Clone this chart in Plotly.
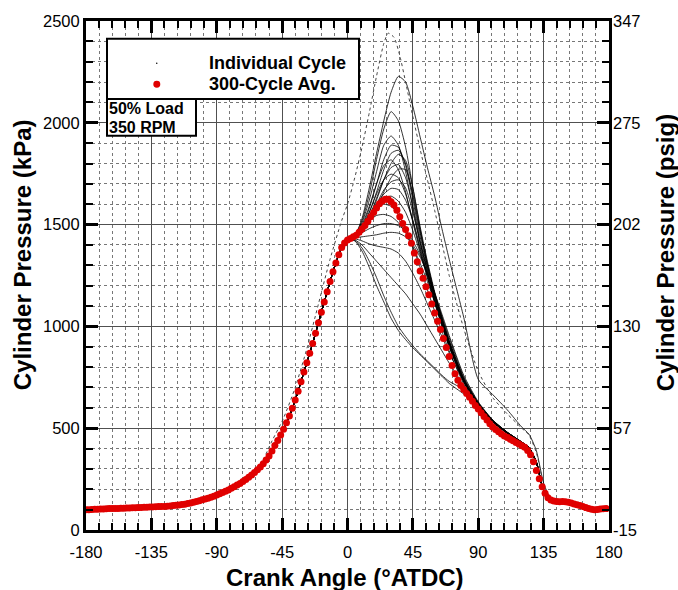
import plotly.graph_objects as go

# ---------------- data ----------------
# crank angle grid of the 300-cycle average (deg ATDC)
CA_AVG = list(range(-180, 181, 2))
# 300-cycle average cylinder pressure (kPa)
P_AVG = [
    100, 100, 101, 102, 102, 103, 103, 104, 105, 105, 106, 106, 107, 107, 108, 108,
    109, 109, 110, 111, 112, 112, 113, 113, 114, 115, 116, 116, 117, 118, 120,
    121, 123, 125, 127, 130, 133, 136, 140, 144, 148, 152, 156, 161, 166, 172,
    178, 184, 190, 197, 205, 213, 221, 229, 238, 248, 259, 270, 282, 296, 310,
    326, 344, 364, 388, 415, 440, 466, 495, 527, 560, 598, 638, 682, 728, 776,
    822, 868, 916, 966, 1018, 1070, 1120, 1170, 1220, 1268, 1312, 1352, 1388, 1410, 1424,
    1432, 1440, 1448, 1462, 1478, 1496, 1516, 1538, 1560, 1582, 1602, 1616, 1624, 1624, 1612,
    1596, 1570, 1538, 1506, 1476, 1445, 1408, 1360, 1318, 1272, 1236, 1195, 1155, 1110, 1066,
    1025, 985, 940, 896, 852, 808, 768, 735, 710, 690, 670, 652, 632, 612, 594,
    576, 558, 540, 522, 506, 494, 483, 472, 462, 454, 446, 438, 430, 422, 414,
    406, 390, 370, 335, 292, 252, 212, 180, 158, 147, 142, 140, 139, 140, 139,
    136, 132, 128, 124, 120, 116, 110, 106, 102, 100, 101, 103, 104, 105,
]

# individual cycles: crank angles of the combustion / expansion part
CA_CYC = [0, 5, 10, 15, 20, 25, 30, 35, 40, 45, 50, 55, 60, 65, 70, 80, 90, 100, 110, 120, 125, 130, 135, 140]
# individual cycle pressures (kPa) at CA_CYC
CYCLE_P = [
    [1425, 1445, 1530, 1680, 1850, 2010, 2150, 2228, 2200, 2080, 1930, 1780, 1640, 1480, 1330, 1045, 740, 665, 590, 505, 470, 390, 230, 150],
    [1425, 1445, 1520, 1650, 1820, 1970, 2055, 2010, 1880, 1680, 1480, 1300, 1160, 1040, 930, 745, 625, 540, 480, 432, 405, 335, 195, 150],
    [1425, 1445, 1510, 1620, 1760, 1890, 1935, 1890, 1760, 1580, 1410, 1270, 1140, 1020, 915, 735, 618, 535, 478, 430, 404, 334, 194, 150],
    [1425, 1442, 1490, 1580, 1700, 1820, 1890, 1880, 1790, 1620, 1440, 1290, 1150, 1030, 920, 738, 620, 536, 478, 430, 404, 334, 194, 150],
    [1425, 1440, 1480, 1560, 1660, 1770, 1850, 1865, 1800, 1640, 1460, 1300, 1160, 1035, 925, 740, 620, 536, 480, 432, 405, 336, 195, 150],
    [1425, 1440, 1470, 1530, 1620, 1720, 1800, 1845, 1815, 1680, 1490, 1320, 1170, 1045, 930, 742, 622, 538, 480, 432, 406, 336, 196, 150],
    [1425, 1444, 1500, 1590, 1700, 1790, 1818, 1770, 1660, 1510, 1370, 1240, 1120, 1005, 900, 728, 612, 532, 475, 428, 402, 332, 193, 150],
    [1425, 1440, 1475, 1540, 1630, 1720, 1780, 1795, 1730, 1590, 1420, 1280, 1140, 1025, 915, 735, 617, 534, 477, 430, 403, 333, 194, 150],
    [1425, 1438, 1460, 1510, 1580, 1660, 1730, 1772, 1770, 1650, 1470, 1310, 1160, 1035, 922, 738, 619, 535, 478, 430, 404, 334, 194, 150],
    [1425, 1442, 1485, 1560, 1650, 1720, 1748, 1730, 1650, 1520, 1380, 1250, 1125, 1010, 905, 730, 613, 532, 476, 429, 402, 332, 193, 150],
    [1425, 1440, 1470, 1530, 1600, 1670, 1710, 1720, 1680, 1560, 1410, 1270, 1135, 1015, 910, 732, 615, 533, 476, 429, 402, 332, 193, 150],
    [1425, 1442, 1480, 1540, 1600, 1650, 1678, 1672, 1620, 1520, 1390, 1255, 1125, 1008, 905, 730, 613, 532, 476, 429, 402, 332, 193, 150],
    [1425, 1442, 1485, 1545, 1595, 1630, 1640, 1615, 1560, 1470, 1360, 1240, 1115, 1000, 900, 728, 611, 531, 475, 428, 401, 331, 192, 150],
    [1425, 1444, 1490, 1545, 1585, 1600, 1590, 1550, 1480, 1390, 1290, 1180, 1075, 975, 880, 718, 606, 528, 473, 427, 400, 330, 192, 150],
    [1425, 1445, 1480, 1520, 1545, 1550, 1540, 1510, 1460, 1390, 1310, 1220, 1120, 1015, 915, 735, 615, 533, 476, 429, 402, 332, 193, 150],
    [1425, 1440, 1460, 1480, 1495, 1505, 1505, 1495, 1470, 1420, 1350, 1260, 1160, 1050, 945, 752, 625, 538, 479, 431, 404, 334, 194, 150],
    [1425, 1435, 1440, 1445, 1450, 1458, 1462, 1458, 1440, 1400, 1340, 1260, 1165, 1060, 955, 760, 630, 540, 480, 432, 405, 335, 195, 150],
    [1425, 1430, 1420, 1405, 1395, 1388, 1380, 1360, 1320, 1260, 1190, 1110, 1030, 950, 870, 730, 620, 535, 478, 430, 404, 334, 194, 150],
    [1425, 1425, 1400, 1360, 1320, 1280, 1240, 1200, 1160, 1110, 1060, 1000, 940, 880, 820, 710, 615, 534, 477, 430, 403, 333, 194, 150],
    [1425, 1420, 1370, 1290, 1200, 1120, 1040, 980, 935, 895, 860, 825, 790, 755, 720, 668, 608, 532, 476, 429, 402, 332, 193, 150],
    [1425, 1422, 1385, 1320, 1240, 1150, 1070, 1000, 950, 905, 865, 830, 795, 760, 730, 690, 615, 533, 476, 429, 402, 332, 193, 150],
]

# the early-burning cycle with the highest peak (drawn dotted)
CA_EARLY = [-70, -60, -52, -44, -36, -28, -20, -12, -4, 0, 5, 10, 15, 20, 25, 28, 32, 36, 40, 45,
            50, 55, 60, 65, 70, 80, 90, 100, 110, 120, 125, 130, 135, 140]
P_EARLY = [250, 320, 437, 550, 700, 890, 1110, 1330, 1520, 1600, 1730, 1880, 2050, 2230, 2390, 2440,
           2420, 2330, 2200, 2030, 1870, 1720, 1570, 1410, 1250, 990, 780, 650, 570, 500, 465, 380, 225, 150]

X_TICKS = [-180, -135, -90, -45, 0, 45, 90, 135, 180]
X_LABELS = ["-180", "-135", "-90", "-45", "0", "45", "90", "135", "180"]
Y_TICKS = [0, 500, 1000, 1500, 2000, 2500]
Y_LABELS = ["0", "500", "1000", "1500", "2000", "2500"]
PSIG_LABELS = ["-15", "57", "130", "202", "275", "347"]

LEGEND_LABELS = ["Individual Cycle", "300-Cycle Avg."]
CONDITION_LINES = ["50% Load", "350 RPM"]

# ---------------- layout geometry (pixels) ----------------
W, H = 678, 590
L, R, T, B = 86, 609, 15, 530


def px(xp):
    return (xp - L) / (R - L)


def py(yp):
    return (B - yp) / (B - T)


FONT = "Liberation Sans, Arial, sans-serif"
TICKFONT = dict(family=FONT, size=16.5, color="black")

fig = go.Figure()


def join(ca_part, p_part):
    xs = [a for a in CA_AVG if a < ca_part[0]] + list(ca_part) + [a for a in CA_AVG if a > ca_part[-1]]
    ys = ([p for a, p in zip(CA_AVG, P_AVG) if a < ca_part[0]] + list(p_part)
          + [p for a, p in zip(CA_AVG, P_AVG) if a > ca_part[-1]])
    return xs, ys


for cyc in CYCLE_P:
    xs, ys = join(CA_CYC, cyc)
    fig.add_trace(go.Scatter(x=xs, y=ys, mode="lines", showlegend=False, hoverinfo="skip",
                             line=dict(color="black", width=0.8, shape="spline", smoothing=0.6)))

xs, ys = join(CA_EARLY, P_EARLY)
fig.add_trace(go.Scatter(x=xs, y=ys, mode="lines", showlegend=False, hoverinfo="skip",
                         line=dict(color="#444444", width=1, dash="dot", shape="spline", smoothing=0.6)))

fig.add_trace(go.Scatter(x=CA_AVG, y=P_AVG, mode="markers", showlegend=False,
                         marker=dict(color="#e00000", size=7, line=dict(width=0))))

# carrier (no visible marks) so the top / right companion axes are drawn
fig.add_trace(go.Scatter(x=CA_AVG, y=P_AVG, mode="none", xaxis="x2", yaxis="y2",
                         showlegend=False, hoverinfo="skip"))

tick_common = dict(ticks="inside", ticklen=12, tickwidth=3, tickcolor="black", zeroline=False)
minor_x = dict(dtick=9, tick0=-180, ticks="inside", ticklen=7, tickwidth=2, tickcolor="black")
minor_y = dict(dtick=100, tick0=0, ticks="inside", ticklen=7, tickwidth=2, tickcolor="black")

fig.update_layout(
    width=W, height=H, autosize=False,
    margin=dict(l=L, r=W - R, t=T, b=H - B),
    paper_bgcolor="white", plot_bgcolor="white",
    xaxis=dict(range=[-180, 180], tickvals=X_TICKS, ticktext=X_LABELS, tickfont=TICKFONT,
               showline=True, linewidth=3, linecolor="black", mirror=True,
               showgrid=True, gridcolor="#505050", gridwidth=1, ticklabelstandoff=5,
               minor=dict(showgrid=True, gridcolor="#777777", griddash="dot", gridwidth=1, **minor_x),
               **tick_common),
    yaxis=dict(range=[0, 2500], tickvals=Y_TICKS, ticktext=Y_LABELS, tickfont=TICKFONT,
               showline=True, linewidth=3, linecolor="black", mirror=True,
               showgrid=True, gridcolor="#505050", gridwidth=1,
               minor=dict(showgrid=True, gridcolor="#777777", griddash="dot", gridwidth=1, **minor_y),
               **tick_common),
    xaxis2=dict(overlaying="x", side="top", range=[-180, 180], tickvals=X_TICKS, showticklabels=False,
                showgrid=False, showline=False, minor=minor_x, **tick_common),
    yaxis2=dict(overlaying="y", side="right", range=[0, 2500], tickvals=Y_TICKS, ticktext=PSIG_LABELS,
                tickfont=TICKFONT, showgrid=False, showline=False, minor=minor_y, ticklabelstandoff=3,
                **tick_common),
    showlegend=False,
)

shapes = []
annotations = []

# legend box
shapes.append(dict(type="rect", xref="paper", yref="paper", x0=px(107), x1=px(359), y0=py(94), y1=py(33),
                   fillcolor="white", line=dict(color="black", width=2), layer="above"))
# condition box
shapes.append(dict(type="rect", xref="paper", yref="paper", x0=px(107), x1=px(196), y0=py(131), y1=py(94),
                   fillcolor="white", line=dict(color="black", width=2), layer="above"))
# legend symbols
shapes.append(dict(type="circle", xref="paper", yref="paper", x0=px(156), x1=px(157.5), y0=py(58.5), y1=py(57),
                   fillcolor="black", line=dict(width=0), layer="above"))
shapes.append(dict(type="circle", xref="paper", yref="paper", x0=px(153.3), x1=px(160.3), y0=py(82.5), y1=py(75.5),
                   fillcolor="#e00000", line=dict(width=0), layer="above"))

annotations.append(dict(xref="paper", yref="paper", x=px(207), y=py(57), xanchor="left", yanchor="middle",
                        text="<b>" + LEGEND_LABELS[0] + "</b>", showarrow=False,
                        font=dict(family=FONT, size=18, color="black")))
annotations.append(dict(xref="paper", yref="paper", x=px(207), y=py(79), xanchor="left", yanchor="middle",
                        text="<b>" + LEGEND_LABELS[1] + "</b>", showarrow=False,
                        font=dict(family=FONT, size=18, color="black")))
for i, line in enumerate(CONDITION_LINES):
    annotations.append(dict(xref="paper", yref="paper", x=px(108), y=py(104 + 18.5 * i), xanchor="left",
                            yanchor="middle", text="<b>" + line + "</b>", showarrow=False, borderpad=0,
                            font=dict(family=FONT, size=16, color="black")))

# axis titles
annotations.append(dict(xref="paper", yref="paper", x=px(345), y=py(578), xanchor="center", yanchor="middle",
                        text="<b>Crank Angle (°ATDC)</b>", showarrow=False,
                        font=dict(family=FONT, size=24, color="black")))
annotations.append(dict(xref="paper", yref="paper", x=px(22), y=py(252), xanchor="center", yanchor="middle",
                        text="<b>Cylinder Pressure (kPa)</b>", showarrow=False, textangle=-90,
                        font=dict(family=FONT, size=24, color="black")))
annotations.append(dict(xref="paper", yref="paper", x=px(665), y=py(250), xanchor="center", yanchor="middle",
                        text="<b>Cylinder Pressure (psig)</b>", showarrow=False, textangle=-90,
                        font=dict(family=FONT, size=24, color="black")))

fig.update_layout(shapes=shapes, annotations=annotations)

fig.write_html("out.html")
